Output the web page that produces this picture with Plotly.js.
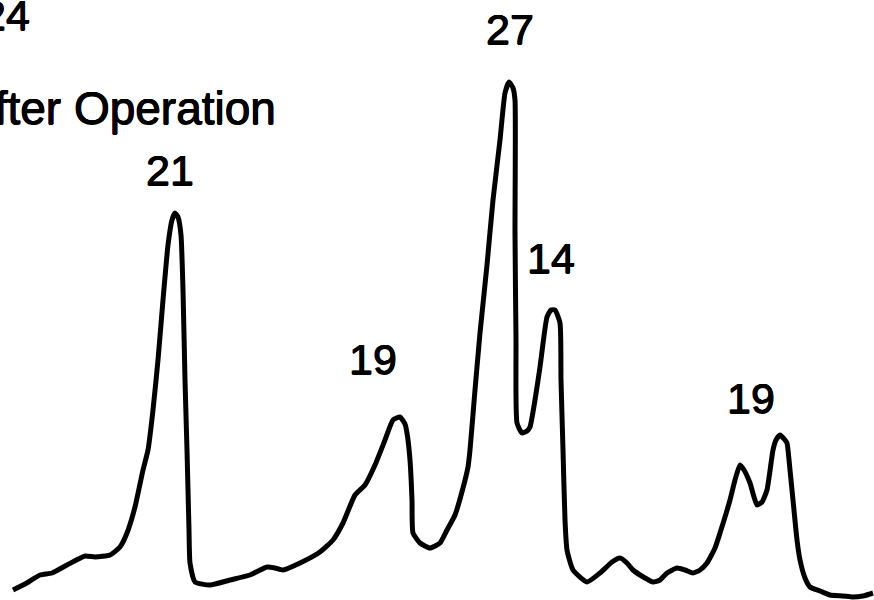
<!DOCTYPE html>
<html>
<head>
<meta charset="utf-8">
<script src="https://cdn.plot.ly/plotly-3.0.1.min.js"></script>
<style>
  html, body { margin: 0; padding: 0; background: #ffffff; }
  #chart { width: 874px; height: 600px; }
</style>
</head>
<body>
<div id="chart"></div>
<script>
// Elution profile after operation: retention time (min) vs detector signal (a.u.)
const retentionTime = [
  1.3, 2.5, 4.0, 5.2, 6.7, 8.5, 9.5, 11.0, 12.0, 12.7, 13.5, 14.3, 14.8, 15.3, 15.8, 16.3,
  16.8, 17.2, 17.5, 17.8, 18.1, 18.3, 18.5, 18.7, 18.9, 19.0, 19.5, 21.0, 23.0, 25.0, 26.7,
  27.5, 28.3, 30.0, 32.0, 33.3, 34.3, 35.5, 36.5, 37.5, 38.5, 39.3, 40.0, 40.5, 40.7, 41.0,
  41.2, 41.3, 42.0, 43.0, 44.0, 44.7, 45.5, 46.3, 46.8, 47.0, 47.5, 48.0, 48.7, 49.3, 50.0,
  50.5, 50.9, 51.3, 51.5, 51.5, 51.6, 51.7, 52.2, 52.7, 53.0, 53.5, 54.0, 54.7, 55.1, 55.5,
  56.0, 56.1, 56.3, 56.5, 56.7, 57.3, 58.7, 60.0, 61.2, 62.0, 62.7, 63.3, 64.5, 65.3, 66.0,
  66.7, 67.7, 68.5, 69.3, 70.0, 70.7, 71.5, 72.0, 73.0, 73.5, 74.0, 74.4, 75.0, 75.7, 76.2,
  76.7, 77.3, 77.6, 78.0, 78.5, 78.7, 79.0, 79.3, 79.7, 80.0, 80.5, 81.0, 82.0, 83.0, 84.3,
  85.3, 86.3, 87.3
];
const signal = [
  1.0, 1.6, 2.5, 2.7, 3.5, 4.4, 4.3, 4.5, 5.3, 6.7, 9.3, 13.0, 15.0, 19.0, 24.0, 30.0,
  35.5, 38.0, 38.7, 38.3, 36.5, 31.0, 22.0, 15.0, 7.0, 3.7, 1.8, 1.5, 2.0, 2.5, 3.3,
  3.2, 3.0, 3.7, 4.8, 6.0, 7.7, 10.5, 11.5, 13.5, 16.0, 18.0, 18.3, 17.6, 16.7, 14.0,
  10.0, 6.7, 5.7, 5.2, 5.7, 7.0, 8.5, 11.2, 13.3, 15.0, 21.0, 26.7, 33.5, 40.0, 46.0,
  50.7, 51.8, 51.2, 50.0, 36.7, 26.0, 17.7, 16.7, 16.9, 17.3, 20.0, 23.3, 28.3, 29.0, 29.0,
  27.7, 22.0, 15.0, 8.0, 5.0, 3.0, 1.8, 2.7, 3.8, 4.2, 3.7, 3.0, 2.2, 1.8, 2.0,
  2.7, 3.2, 3.0, 2.7, 3.0, 3.7, 5.2, 6.7, 10.0, 12.0, 13.5, 13.0, 11.7, 9.5, 9.8,
  11.0, 15.0, 16.0, 16.5, 16.0, 15.7, 13.0, 10.0, 6.0, 4.0, 2.2, 1.3, 0.9, 0.5, 0.4,
  0.3, 0.4, 0.7
];

// Peak annotations: label text and where it sits (time, signal)
const peakLabels = ["24", "21", "19", "27", "14", "19"];
const labelTime  = [0.6, 17.0, 37.3, 51.0, 55.1, 75.1];
const labelLevel = [58.5, 43.0, 24.1, 57.1, 34.2, 20.2];

const caption = "After Operation";

// slight outline so the lettering reads as heavy as the trace
const inkShadow = "0.5px 0 0 #000, -0.5px 0 0 #000, 0 0.5px 0 #000, 0 -0.5px 0 #000";

const annotations = peakLabels.map((t, i) => ({
  x: labelTime[i], y: labelLevel[i], xref: "x", yref: "y",
  text: t, showarrow: false, xanchor: "center", yanchor: "middle",
  font: { family: "Liberation Sans, Arial, sans-serif", size: 43, color: "#000", shadow: inkShadow }
}));
annotations.push({
  x: 27.8, y: 49.2, xref: "x", yref: "y",
  text: caption, showarrow: false, xanchor: "right", yanchor: "middle",
  font: { family: "Liberation Sans, Arial, sans-serif", size: 46, color: "#000", shadow: inkShadow }
});

const trace = {
  x: retentionTime,
  y: signal,
  type: "scatter",
  mode: "lines",
  line: { color: "#000000", width: 5, shape: "spline", smoothing: 0.5 },
  hoverinfo: "skip"
};

const layout = {
  width: 874, height: 600,
  margin: { l: 0, r: 0, t: 0, b: 0, pad: 0 },
  paper_bgcolor: "#ffffff", plot_bgcolor: "#ffffff",
  showlegend: false,
  xaxis: { range: [0, 87.4], visible: false, fixedrange: true },
  yaxis: { range: [0, 60], visible: false, fixedrange: true },
  annotations: annotations
};

Plotly.newPlot("chart", [trace], layout, { staticPlot: true, displayModeBar: false });
</script>
</body>
</html>
